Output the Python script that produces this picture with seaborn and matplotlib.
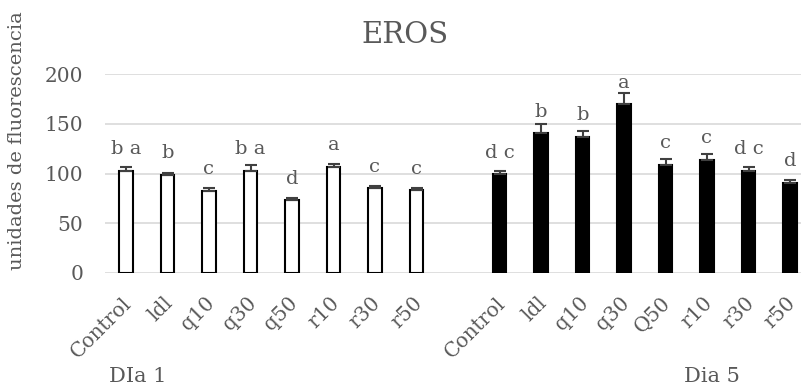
import numpy as np
import pandas as pd
import matplotlib
matplotlib.use("Agg")
import matplotlib.pyplot as plt
import matplotlib.transforms as mtransforms
import seaborn as sns

# ---- data ----
conds_d1 = ["Control", "ldl", "q10", "q30", "q50", "r10", "r30", "r50"]
conds_d5 = ["Control", "ldl", "q10", "q30", "Q50", "r10", "r30", "r50"]
vals_d1 = [102.5, 98.5, 82.5, 102.5, 73, 107, 85, 83]
vals_d5 = [99, 140.5, 137, 169.5, 109, 113.5, 103, 90.5]
err_d1 = [4, 2, 3, 6, 2.5, 3, 2, 2]
err_d5 = [4, 9, 6, 11, 6, 6, 4, 3]
letters_d1 = ["b a", "b", "c", "b a", "d", "a", "c", "c"]
letters_d5 = ["d c", "b", "b", "a", "c", "c", "d c", "d"]
group_labels = ["DIa 1", "Dia 5"]
title = "EROS"
ylabel = "unidades de fluorescencia"

keys_d1 = ["D1_" + c for c in conds_d1]
keys_d5 = ["D5_" + c for c in conds_d5]
order = keys_d1 + ["_gap_"] + keys_d5
df = pd.DataFrame({
    "key": keys_d1 + keys_d5,
    "value": vals_d1 + vals_d5,
    "day": ["Dia 1"] * 8 + ["Dia 5"] * 8,
})

sns.set_theme(style="white")
plt.rcParams["font.family"] = ["DejaVu Serif"]
txt = "#595959"

fig = plt.figure(figsize=(8.01, 3.89), dpi=100)
ax = fig.add_axes([105.25 / 801, 116 / 389, 705.5 / 801, 199 / 389])

sns.barplot(data=df, x="key", y="value", hue="day", order=order,
            palette={"Dia 1": "white", "Dia 5": "black"},
            width=0.33, edgecolor="black", linewidth=1.5,
            errorbar=None, legend=False, ax=ax, zorder=3)

pos = {k: i for i, k in enumerate(order)}
xs = [pos[k] for k in keys_d1 + keys_d5]
vals = vals_d1 + vals_d5
errs = err_d1 + err_d5
ax.errorbar(xs, vals, yerr=[np.zeros(len(errs)), errs], fmt="none",
            ecolor="#404040", elinewidth=1.5, capsize=4.5, capthick=1.5, zorder=4)

for x, v, lab in zip(xs, vals, letters_d1 + letters_d5):
    ax.annotate(lab, (x, v), xytext=(0, 12), textcoords="offset points",
                ha="center", va="baseline", fontsize=14, color=txt)

ax.set_ylim(0, 200)
ax.set_xlim(-0.5, len(order) - 0.5)
ax.set_yticks([0, 50, 100, 150, 200])
ax.yaxis.grid(True, color="#d9d9d9", linewidth=1.2, zorder=0)
ax.set_axisbelow(True)
for s in ax.spines.values():
    s.set_visible(False)
ax.tick_params(axis="both", length=0, labelsize=14.5, labelcolor=txt)
ax.tick_params(axis="y", pad=16)
ax.set_xlabel("")
ax.set_ylabel("")

ax.set_xticks(xs)
ax.set_xticklabels(conds_d1 + conds_d5, rotation=45, ha="right",
                   rotation_mode="anchor", fontsize=14.5, color=txt)
ax.tick_params(axis="x", pad=14)
shift = mtransforms.ScaledTranslation(-4 / 100, -1 / 100, fig.dpi_scale_trans)
for lab in ax.get_xticklabels():
    lab.set_transform(lab.get_transform() + shift)

fig.text(405 / 801, 1 - 35 / 389, title, ha="center", va="center", fontsize=21, color=txt)
fig.text(17 / 801, 1 - 141 / 389, ylabel, rotation=90, ha="center", va="center",
         fontsize=14, color=txt)
fig.text(109 / 801, 1 - 382 / 389, group_labels[0], ha="left", va="baseline",
         fontsize=15, color=txt)
fig.text(684 / 801, 1 - 382 / 389, group_labels[1], ha="left", va="baseline",
         fontsize=15, color=txt)

fig.savefig("out.png", dpi=100)
